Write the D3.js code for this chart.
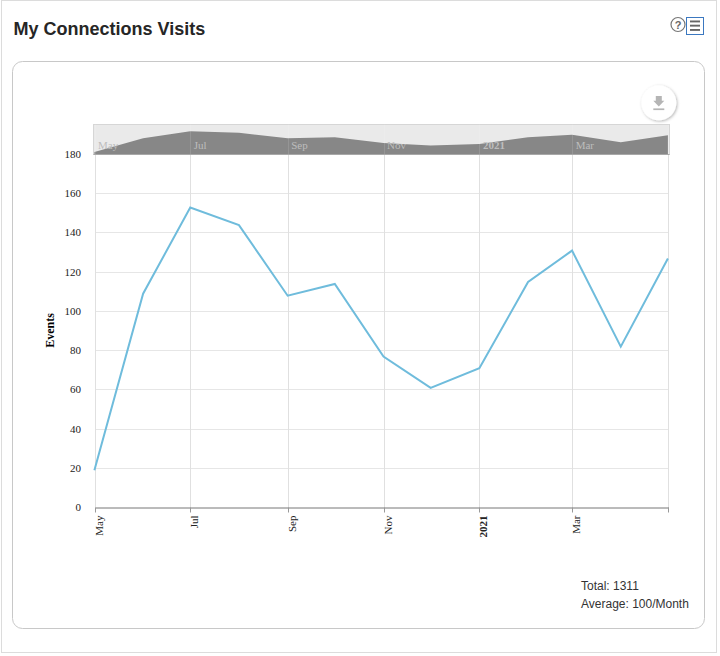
<!DOCTYPE html>
<html>
<head>
<meta charset="utf-8">
<title>My Connections Visits</title>
<script src="https://d3js.org/d3.v7.min.js"></script>
<style>
  html, body { margin: 0; padding: 0; background: #fff; }
  svg { display: block; }
  text { font-family: "Liberation Serif", serif; }
  .sans { font-family: "Liberation Sans", Arial, sans-serif; }
</style>
</head>
<body>
<div id="chart"></div>
<script>
// Monthly visits, May 2020 to May 2021.
var months = ["2020-05-01", "2020-06-01", "2020-07-01", "2020-08-01", "2020-09-01",
  "2020-10-01", "2020-11-01", "2020-12-01", "2021-01-01", "2021-02-01",
  "2021-03-01", "2021-04-01", "2021-05-01"];
var visits = [19, 109, 153, 144, 108, 114, 77, 61, 71, 115, 131, 82, 127];

var tickMonths = ["2020-05-01", "2020-07-01", "2020-09-01", "2020-11-01", "2021-01-01", "2021-03-01", "2021-05-01"];
var tickLabels = ["May", "Jul", "Sep", "Nov", "2021", "Mar", ""];
var yTicks = [0, 20, 40, 60, 80, 100, 120, 140, 160, 180];
var summaryLines = ["Total: 1311", "Average: 100/Month"];

var parseDate = d3.utcParse("%Y-%m-%d");
var dates = months.map(parseDate);
var tickDates = tickMonths.map(parseDate);

// Snap a coordinate to the middle of its pixel so 1px lines stay crisp.
function crisp(v) { return Math.floor(v) + 0.5; }

var svg = d3.select("#chart").append("svg")
  .attr("width", 720)
  .attr("height", 656);

// Outer panel and inner card.
svg.append("rect")
  .attr("x", 1.5).attr("y", 0.5)
  .attr("width", 715).attr("height", 652)
  .attr("fill", "#fff").attr("stroke", "#dcdcdc");

svg.append("rect")
  .attr("x", 12.5).attr("y", 61.5)
  .attr("width", 692).attr("height", 567)
  .attr("rx", 10).attr("ry", 10)
  .attr("fill", "#fff").attr("stroke", "#c8c8c8");

svg.append("text")
  .attr("class", "sans")
  .attr("x", 13.5).attr("y", 35)
  .attr("font-size", 18).attr("font-weight", "bold")
  .attr("fill", "#262626")
  .text("My Connections Visits");

// Scales.
var x = d3.scaleUtc()
  .domain([tickDates[0], tickDates[tickDates.length - 1]])
  .range([95, 668.5]);

var y = d3.scaleLinear()
  .domain([0, 180])
  .range([507.5, 154.5]);

var navY = d3.scaleLinear()
  .domain([0, 194])
  .range([155, 125]);

// Grid lines.
var grid = svg.append("g");

grid.selectAll(".h-grid")
  .data(yTicks.slice(1))
  .enter().append("line")
  .attr("x1", 95).attr("x2", 668.5)
  .attr("y1", function (d) { return crisp(y(d)); })
  .attr("y2", function (d) { return crisp(y(d)); })
  .attr("stroke", "#e6e6e6");

grid.selectAll(".v-grid")
  .data(tickDates)
  .enter().append("line")
  .attr("x1", function (d) { return crisp(x(d)); })
  .attr("x2", function (d) { return crisp(x(d)); })
  .attr("y1", 154.5).attr("y2", 507.5)
  .attr("stroke", "#e0e0e0");

// Y axis: labels only.
var yAxis = d3.axisLeft(y).tickValues(yTicks).tickSize(0).tickPadding(14);
var yG = svg.append("g").attr("transform", "translate(95,-0.5)").call(yAxis);
yG.select(".domain").remove();
yG.selectAll("text")
  .attr("font-family", "Liberation Serif")
  .attr("font-size", 11).attr("fill", "#222");

svg.append("text")
  .attr("transform", "translate(54,330.5) rotate(-90)")
  .attr("text-anchor", "middle")
  .attr("font-size", 12).attr("font-weight", "bold")
  .attr("fill", "#000")
  .text("Events");

// X axis with rotated labels.
var xAxis = d3.axisBottom(x)
  .tickValues(tickDates)
  .tickSize(5)
  .tickSizeOuter(0)
  .tickFormat(function (d, i) { return tickLabels[i]; });

var xG = svg.append("g").attr("transform", "translate(0,507.5)").call(xAxis);
xG.select(".domain").attr("stroke", "#777");
xG.selectAll(".tick")
  .attr("transform", function (d) { return "translate(" + crisp(x(d)) + ",0)"; });
xG.selectAll(".tick line").attr("stroke", "#999");
xG.selectAll("text")
  .attr("font-family", "Liberation Serif")
  .attr("font-size", 11)
  .attr("fill", "#222")
  .attr("font-weight", function (d, i) { return tickLabels[i] === "2021" ? "bold" : "normal"; })
  .attr("text-anchor", "end")
  .attr("transform", "rotate(-90)")
  .attr("x", -8).attr("y", 0)
  .attr("dx", 0).attr("dy", "0.7em");

// Main line.
var line = d3.line()
  .x(function (d, i) { return x(dates[i]) - 0.6; })
  .y(function (d) { return y(d); });

svg.append("path")
  .datum(visits)
  .attr("d", line)
  .attr("fill", "none")
  .attr("stroke", "#6fbcdc")
  .attr("stroke-width", 2);

// Navigator strip above the plot.
var nav = svg.append("g");

nav.append("rect")
  .attr("x", 93.5).attr("y", 124.5)
  .attr("width", 576).attr("height", 30)
  .attr("fill", "#eaeaea").attr("stroke", "#d6d6d6");

var navArea = d3.area()
  .x(function (d, i) { return x(dates[i]) - 0.6; })
  .y0(154.5)
  .y1(function (d) { return navY(d); });

nav.append("path")
  .datum(visits)
  .attr("d", navArea)
  .attr("fill", "#878787");

nav.selectAll(".nav-tick")
  .data(tickDates)
  .enter().append("line")
  .attr("x1", function (d) { return crisp(x(d)); })
  .attr("x2", function (d) { return crisp(x(d)); })
  .attr("y1", 124.5).attr("y2", 154.5)
  .attr("stroke", "#fff").attr("stroke-opacity", 0.12);

nav.selectAll(".nav-label")
  .data(tickDates.slice(0, 6))
  .enter().append("text")
  .attr("x", function (d) { return x(d) + 3; })
  .attr("y", 149)
  .attr("font-size", 11)
  .attr("fill", "#bdbdbd")
  .attr("font-weight", function (d, i) { return tickLabels[i] === "2021" ? "bold" : "normal"; })
  .text(function (d, i) { return tickLabels[i]; });

nav.append("line")
  .attr("x1", 93.5).attr("x2", 669.5)
  .attr("y1", 154.5).attr("y2", 154.5)
  .attr("stroke", "#a8a8a8");

// Download button.
var shadow = svg.append("defs").append("filter")
  .attr("id", "btn-shadow")
  .attr("x", "-30%").attr("y", "-30%")
  .attr("width", "160%").attr("height", "160%");
shadow.append("feDropShadow")
  .attr("dx", 1).attr("dy", 1)
  .attr("stdDeviation", 1.5)
  .attr("flood-color", "#000")
  .attr("flood-opacity", 0.3);

var btn = svg.append("g").attr("transform", "translate(658.8,102.8)");
btn.append("circle").attr("r", 17.5).attr("fill", "#fff").attr("filter", "url(#btn-shadow)");
btn.append("path").attr("d", "M-3,-6.8 H3 V-2 H5.5 L0,3.8 L-5.5,-2 H-3 Z").attr("fill", "#b5b5b5");
btn.append("rect").attr("x", -5.5).attr("y", 5.6).attr("width", 11).attr("height", 1.7).attr("fill", "#b5b5b5");

// Help and menu icons.
svg.append("circle")
  .attr("cx", 678).attr("cy", 24.5).attr("r", 7)
  .attr("fill", "#fff").attr("stroke", "#777").attr("stroke-width", 1.2);
svg.append("text")
  .attr("class", "sans")
  .attr("x", 678).attr("y", 28.5)
  .attr("text-anchor", "middle")
  .attr("font-size", 11).attr("font-weight", "bold")
  .attr("fill", "#666")
  .text("?");

svg.append("rect")
  .attr("x", 686.5).attr("y", 17.5)
  .attr("width", 17).attr("height", 17)
  .attr("fill", "#fff").attr("stroke", "#3b78c0");
svg.selectAll(".menu-bar")
  .data([20.5, 24.7, 29])
  .enter().append("rect")
  .attr("x", 690).attr("y", function (d) { return d; })
  .attr("width", 10).attr("height", 1.9)
  .attr("fill", "#666");

// Summary.
svg.selectAll(".summary")
  .data(summaryLines)
  .enter().append("text")
  .attr("class", "sans")
  .attr("x", 581)
  .attr("y", function (d, i) { return 590 + i * 18; })
  .attr("font-size", 12)
  .attr("fill", "#333")
  .text(function (d) { return d; });
</script>
</body>
</html>
